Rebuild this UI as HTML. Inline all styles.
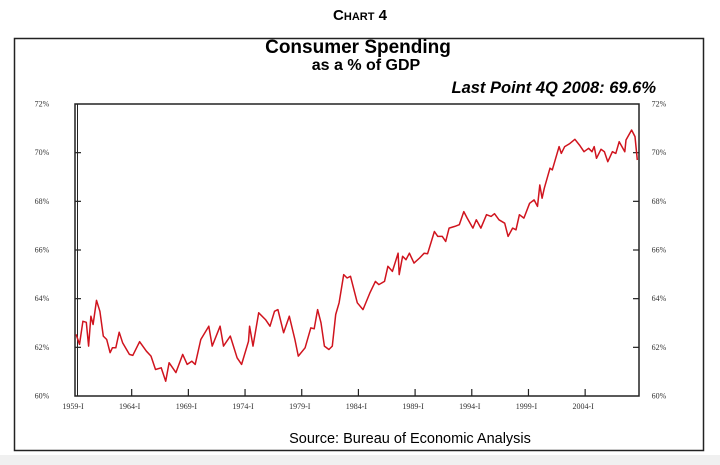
<!DOCTYPE html>
<html><head><meta charset="utf-8"><style>
body{margin:0;width:720px;height:465px;background:#fff;overflow:hidden;font-family:"Liberation Sans",sans-serif}
#wrap{position:relative;width:720px;height:465px}
.strip{position:absolute;left:0;top:455px;width:720px;height:10px;background:#f0f0f0}
</style></head><body>
<div id="wrap">
<div class="strip"></div>
<svg id="chart" width="720" height="465" style="position:absolute;left:0;top:0">
<text x="360" y="20" text-anchor="middle" font-family="Liberation Sans" font-weight="bold" font-size="15">C<tspan font-size="11">HART</tspan> 4</text>
<rect x="14.5" y="38.5" width="689" height="412" fill="none" stroke="#222" stroke-width="1.5"/>
<text x="358" y="53" text-anchor="middle" font-weight="bold" font-size="19">Consumer  Spending</text>
<text x="366" y="70" text-anchor="middle" font-weight="bold" font-size="16">as a % of GDP</text>
<text x="656" y="93" text-anchor="end" font-weight="bold" font-style="italic" font-size="16.5">Last Point 4Q 2008: 69.6%</text>
<text x="410" y="443" text-anchor="middle" font-size="14.5">Source:  Bureau of Economic Analysis</text>
<g id="axes"></g>
<g id="series"></g>
</svg>
</div>
<script>
const years=[1959.1,1959.4,1959.7,1960.0,1960.2,1960.4,1960.6,1960.9,1961.2,1961.5,1961.8,1962.1,1962.3,1962.6,1962.9,1963.2,1963.8,1964.1,1964.7,1965.3,1965.7,1966.1,1966.6,1967.0,1967.3,1967.9,1968.5,1968.9,1969.3,1969.6,1970.1,1970.8,1971.1,1971.8,1972.1,1972.7,1973.3,1973.7,1974.3,1974.4,1974.7,1975.2,1975.8,1976.2,1976.6,1976.9,1977.4,1977.9,1978.4,1978.7,1979.3,1979.8,1980.1,1980.4,1980.7,1981.0,1981.4,1981.7,1982.0,1982.3,1982.7,1983.0,1983.3,1983.9,1984.4,1985.0,1985.5,1985.8,1986.3,1986.6,1987.0,1987.5,1987.6,1987.9,1988.2,1988.5,1988.9,1989.4,1989.8,1990.1,1990.7,1991.0,1991.4,1991.7,1992.0,1992.5,1992.9,1993.3,1993.6,1994.1,1994.4,1994.8,1995.3,1995.7,1996.0,1996.4,1996.9,1997.2,1997.6,1997.9,1998.2,1998.6,1999.1,1999.5,1999.8,2000.0,2000.2,2000.4,2000.9,2001.1,2001.7,2001.9,2002.2,2002.6,2003.1,2003.5,2003.9,2004.3,2004.6,2004.8,2005.0,2005.4,2005.7,2006.0,2006.4,2006.7,2007.0,2007.5,2007.6,2008.1,2008.4,2008.6];
const shares=[62.53,62.12,63.07,63.03,62.05,63.28,62.94,63.93,63.48,62.46,62.32,61.78,61.98,61.98,62.62,62.19,61.71,61.67,62.23,61.84,61.64,61.09,61.16,60.61,61.37,60.96,61.71,61.30,61.43,61.30,62.32,62.87,62.05,62.87,62.05,62.46,61.57,61.30,62.25,62.87,62.05,63.42,63.14,62.87,63.48,63.55,62.60,63.28,62.32,61.64,61.98,62.80,62.76,63.55,63.01,62.05,61.91,62.05,63.35,63.83,64.99,64.85,64.92,63.83,63.55,64.23,64.71,64.58,64.71,65.33,65.12,65.87,64.99,65.74,65.60,65.87,65.46,65.67,65.87,65.85,66.76,66.56,66.56,66.35,66.90,66.97,67.04,67.58,67.31,66.90,67.24,66.90,67.45,67.38,67.49,67.24,67.10,66.56,66.90,66.83,67.45,67.31,67.92,68.06,67.79,68.67,68.13,68.54,69.36,69.29,70.25,69.97,70.25,70.36,70.55,70.31,70.04,70.18,70.04,70.25,69.77,70.14,70.04,69.63,70.04,69.97,70.45,70.04,70.52,70.93,70.66,69.70];
const yTicks=[60,62,64,66,68,70,72];
const yTickLabels=["60%","62%","64%","66%","68%","70%","72%"];
const xTicks=[1959,1964,1969,1974,1979,1984,1989,1994,1999,2004];
const xTickLabels=["1959-I","1964-I","1969-I","1974-I","1979-I","1984-I","1989-I","1994-I","1999-I","2004-I"];

const L=75,R=639,T=104,B=396,X0=1959,X1=2008.75,Y0=60,Y1=72;
const xs=v=>L+(v-X0)/(X1-X0)*(R-L);
const ys=v=>B-(v-Y0)/(Y1-Y0)*(B-T);
const NS="http://www.w3.org/2000/svg";
const axes=document.getElementById('axes');
function mk(tag,attrs,parent){const e=document.createElementNS(NS,tag);for(const k in attrs)e.setAttribute(k,attrs[k]);parent.appendChild(e);return e;}

const frame=mk('rect',{x:L,y:T,width:R-L,height:B-T,fill:'none',stroke:'#222','stroke-width':1.5},axes);


const dbl=mk('line',{x1:L+2.5,y1:T,x2:L+2.5,y2:B,stroke:'#222','stroke-width':1},axes);



yTicks.forEach((v,i)=>{
  const y=ys(v);
  if(i>0&&i<yTicks.length-1){
    const t1=mk('line',{x1:L,y1:y,x2:L+6,y2:y,stroke:'#222','stroke-width':1.2},axes);
    
    
    const t2=mk('line',{x1:R-6,y1:y,x2:R,y2:y,stroke:'#222','stroke-width':1.2},axes);
    
    
  }
  const a=mk('text',{x:42,y:y+2.5,'text-anchor':'middle','font-family':'Liberation Serif','font-size':8,fill:'#333'},axes);
  a.textContent=yTickLabels[i];
  
  
  const b=mk('text',{x:659,y:y+2.5,'text-anchor':'middle','font-family':'Liberation Serif','font-size':8,fill:'#333'},axes);
  b.textContent=yTickLabels[i];
  
  
});
xTicks.forEach((v,i)=>{
  const x=xs(v);
  if(i>0){
    const t=mk('line',{x1:x,y1:B,x2:x,y2:B-7,stroke:'#222','stroke-width':1.2},axes);
    
    
  }
  const lb=mk('text',{x:x-2,y:B+13,'text-anchor':'middle','font-family':'Liberation Serif','font-size':8,fill:'#333'},axes);
  lb.textContent=xTickLabels[i];
  
  
});
const d=years.map((y,i)=>(i?'L':'M')+xs(y).toFixed(1)+','+ys(shares[i]).toFixed(1)).join('');
const line=mk('path',{d:d,fill:'none',stroke:'#d0141e','stroke-width':1.5,'stroke-linejoin':'round'},document.getElementById('series'));


</script>
</body></html>
